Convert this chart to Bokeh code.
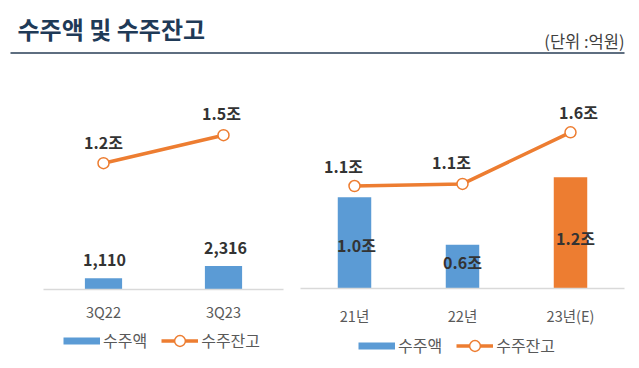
from bokeh.plotting import figure
from bokeh.models import (ColumnDataSource, FactorRange, Range1d, Legend, LegendItem,
                          Label, BoxAnnotation)
from bokeh.layouts import column, row
from bokeh.embed import file_html
from bokeh.resources import INLINE
from bokeh.core.properties import value

# ---------------- data ----------------
title_text = "수주액 및 수주잔고"
unit_text = "(단위 :억원)"
series_names = ["수주액", "수주잔고"]

q_categories = ["3Q22", "3Q23"]
q_orders = [1110, 2316]                 # 수주액 (억원)
q_order_labels = ["1,110", "2,316"]
q_backlog = [1.2, 1.5]                  # 수주잔고 (조원)
q_backlog_labels = ["1.2조", "1.5조"]

y_categories = ["21년", "22년", "23년(E)"]
y_orders = [10000, 4800, 12200]         # 수주액 (억원)
y_order_labels = ["1.0조", "0.6조", "1.2조"]
y_backlog = [1.08, 1.10, 1.59]          # 수주잔고 (조원)
y_backlog_labels = ["1.1조", "1.1조", "1.6조"]

# ---------------- style ----------------
FONT = "Noto Sans CJK KR"
BLUE = "#5B9BD5"
ORANGE = "#ED7D31"
DARK = "#333333"
GRAY = "#595959"
AXIS = "#D9D9D9"


def blank(p):
    p.axis.visible = False
    p.grid.visible = False
    p.outline_line_color = None
    p.background_fill_color = "white"
    p.border_fill_color = "white"


def base_fig(cats, yr, width, bl, br, bb):
    p = figure(x_range=FactorRange(factors=cats), y_range=yr, width=width, height=268,
               output_backend="svg", toolbar_location=None,
               min_border_left=bl, min_border_right=br, min_border_top=0, min_border_bottom=bb)
    p.outline_line_color = None
    p.grid.visible = False
    p.yaxis.visible = False
    p.xaxis.axis_line_color = AXIS
    p.xaxis.axis_line_width = 1.5
    p.xaxis.major_tick_line_color = None
    p.xaxis.minor_tick_line_color = None
    p.xaxis.major_tick_out = 0
    p.xaxis.major_tick_in = 0
    p.xaxis.major_label_text_font = FONT
    p.xaxis.major_label_text_font_size = "14.5px"
    p.xaxis.major_label_text_color = GRAY
    p.background_fill_color = "white"
    p.border_fill_color = "white"
    return p


def add_series(p, cats, orders, order_labels, backlog, backlog_labels, bar_colors,
               bar_label_mode, bar_dx, bar_dy, bl_dx, bl_dy):
    src = ColumnDataSource(dict(cat=cats, orders=orders, olab=order_labels,
                                bl=backlog, bllab=backlog_labels, col=bar_colors,
                                half=[o / 2 for o in orders],
                                bdx=bar_dx, bdy=bar_dy, ldx=bl_dx, ldy=bl_dy))
    p.vbar(x="cat", top="orders", width=0.31, fill_color="col", line_color=None, source=src)
    ycol = "orders" if bar_label_mode == "top" else "half"
    p.text(x="cat", y=ycol, text="olab", x_offset="bdx", y_offset="bdy", source=src,
           text_align="center", text_baseline="middle", text_font=value(FONT),
           text_font_style="bold", text_font_size="16px", text_color=DARK)
    p.line(x="cat", y="bl", y_range_name="bl", line_color=ORANGE, line_width=3.5, source=src)
    p.scatter(x="cat", y="bl", y_range_name="bl", marker="circle", size=11,
              fill_color="white", line_color=ORANGE, line_width=1.5, source=src)
    p.text(x="cat", y="bl", y_range_name="bl", text="bllab", x_offset="ldx", y_offset="ldy",
           source=src, text_align="center", text_baseline="middle", text_font=value(FONT),
           text_font_style="bold", text_font_size="16px", text_color=DARK)


def legend_fig(width, loc):
    f = figure(width=width, height=40, x_range=Range1d(0, 1), y_range=Range1d(0, 1),
               output_backend="svg", toolbar_location=None,
               min_border_left=0, min_border_right=0, min_border_top=0, min_border_bottom=0)
    blank(f)
    # legend-only swatches, kept outside the visible range
    swatch = f.line(x=[5, 6], y=[5, 6], line_color=BLUE, line_width=7, line_cap="butt")
    ln = f.line(x=[5, 6], y=[5, 6], line_color=ORANGE, line_width=3.5)
    mk = f.scatter(x=[5], y=[5], marker="circle", fill_color="white", line_color=ORANGE,
                   line_width=1.5)
    legend = Legend(items=[LegendItem(label=series_names[0], renderers=[swatch]),
                           LegendItem(label=series_names[1], renderers=[ln, mk])],
                    orientation="horizontal", location=loc, padding=0, margin=0,
                    spacing=14, glyph_width=37, glyph_height=27, label_standoff=3,
                    border_line_color=None, background_fill_alpha=0,
                    label_text_font=FONT, label_text_font_size="16px", label_text_color=GRAY)
    f.add_layout(legend)
    return f


# ---------------- header ----------------
hdr = figure(width=639, height=60, x_range=Range1d(0, 639), y_range=Range1d(60, 0),
             output_backend="svg", toolbar_location=None,
             min_border_left=0, min_border_right=0, min_border_top=0, min_border_bottom=0)
blank(hdr)
hdr.add_layout(Label(x=17, y=27.5, text=title_text, text_font=FONT, text_font_style="bold",
                     text_font_size="24px", text_color="#1F3A57", text_baseline="middle"))
hdr.add_layout(Label(x=624, y=40, text=unit_text, text_font=FONT, text_font_size="16.5px",
                     text_color="#404040", text_baseline="middle", text_align="right"))
hdr.add_layout(BoxAnnotation(left=10, right=624, top=51.6, bottom=53.6,
                             fill_color="#5E6E80", fill_alpha=1, line_color=None))
hdr.scatter([0], [0], size=0, alpha=0)

# ---------------- left chart ----------------
pl = base_fig(q_categories, Range1d(0, 22500), 300, 43, 17, 39)
pl.extra_y_ranges = {"bl": Range1d(-0.153, 2.30)}
pl.xaxis.major_label_standoff = 11
add_series(pl, q_categories, q_orders, q_order_labels, q_backlog, q_backlog_labels,
           [BLUE, BLUE], "top", [1, 2], [-18, -18], [0, -2], [-21, -22])
legL = legend_fig(300, (20, 14.5))

# ---------------- right chart ----------------
pr = base_fig(y_categories, Range1d(0, 25000), 339, 0, 15, 37)
pr.extra_y_ranges = {"bl": Range1d(0.107, 2.272)}
pr.xaxis.major_label_standoff = 16
add_series(pr, y_categories, y_orders, y_order_labels, y_backlog, y_backlog_labels,
           [BLUE, BLUE, ORANGE], "mid", [2, 0, 5], [2, -5, 5], [-11, -11, 8], [-20, -22, -20])
legR = legend_fig(339, (58, 9.5))

layout = column(hdr, row(column(pl, legL, spacing=0), column(pr, legR, spacing=0), spacing=0),
                spacing=0)
open("out.html", "w").write(file_html(layout, INLINE))
